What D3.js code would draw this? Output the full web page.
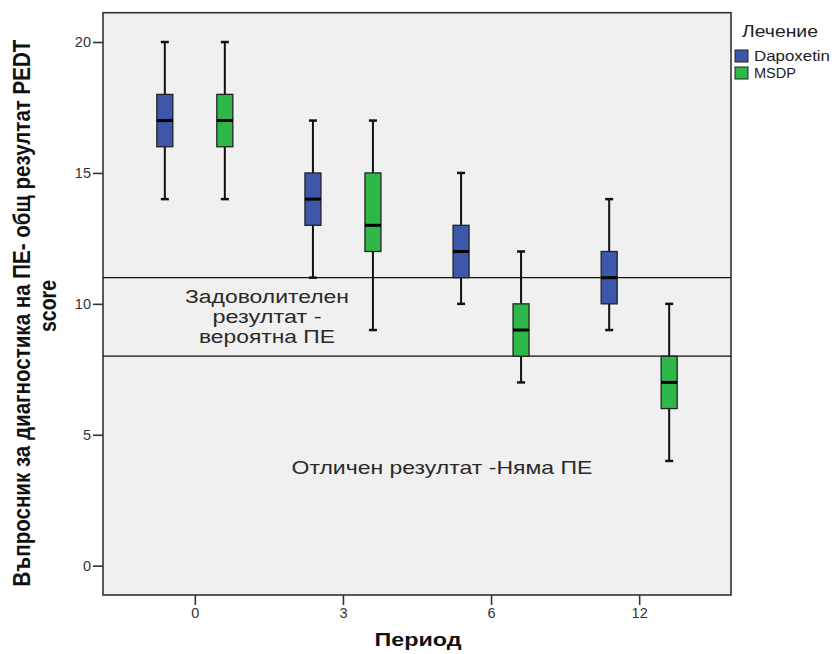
<!DOCTYPE html>
<html>
<head>
<meta charset="utf-8">
<script src="https://cdn.jsdelivr.net/npm/d3@7"></script>
<style>
  html, body { margin: 0; padding: 0; background: #ffffff; }
  svg { display: block; font-family: Arial, "Liberation Sans", sans-serif; }
</style>
</head>
<body>
<svg id="chart" width="832" height="654"></svg>
<script>
// Periods (months) and treatments
const periods = ["0", "3", "6", "12"];
const treatments = ["Dapoxetin", "MSDP"];
const yTicks = [0, 5, 10, 15, 20];

// PEDT score box statistics per period – Dapoxetin
const dapMin = [14, 11, 10, 9];
const dapQ1  = [16, 13, 11, 10];
const dapMed = [17, 14, 12, 11];
const dapQ3  = [18, 15, 13, 12];
const dapMax = [20, 17, 15, 14];

// PEDT score box statistics per period – MSDP
const msdpMin = [14, 9, 7, 4];
const msdpQ1  = [16, 12, 8, 6];
const msdpMed = [17, 13, 9, 7];
const msdpQ3  = [18, 15, 10, 8];
const msdpMax = [20, 17, 12, 10];

// Threshold lines between score zones
const thresholds = [11, 8];

const colors = { Dapoxetin: "#3d57a9", MSDP: "#2fb84a" };

const frame = { left: 103, right: 731, top: 12.7, bottom: 595 };
const svg = d3.select("#chart");

const x = d3.scalePoint().domain(periods)
  .range([frame.left, frame.right]).padding(0.62);
const xInner = d3.scaleBand().domain(treatments).range([-60, 60]);
const y = d3.scaleLinear().domain([-1.12, 21.12])
  .range([frame.bottom, frame.top]);

// Stretch a text element along its baseline so that it spans `len` pixels,
// keeping it centred on (cx, by) in its own coordinate frame.
function fitText(sel, cx, by, len) {
  sel.each(function () {
    const natural = this.getComputedTextLength();
    const s = len / natural;
    d3.select(this)
      .attr("x", 0).attr("y", 0)
      .attr("transform", `translate(${cx - len / 2},${by}) scale(${s},1)`);
  });
}

// plot background and frame
svg.append("rect")
  .attr("x", frame.left).attr("y", frame.top)
  .attr("width", frame.right - frame.left)
  .attr("height", frame.bottom - frame.top)
  .attr("fill", "#f0f0f0")
  .attr("stroke", "#333").attr("stroke-width", 1.6);

// axes
const yAxis = svg.append("g")
  .attr("transform", `translate(${frame.left},0)`)
  .call(d3.axisLeft(y).tickValues(yTicks).tickSize(10).tickPadding(2));
const xAxis = svg.append("g")
  .attr("transform", `translate(0,${frame.bottom})`)
  .call(d3.axisBottom(x).tickSize(10).tickPadding(3));
[yAxis, xAxis].forEach(g => {
  g.select(".domain").remove();
  g.selectAll(".tick line").attr("stroke", "#333").attr("stroke-width", 1.6);
  g.selectAll(".tick text").attr("fill", "#333")
    .style("font-size", "14.5px").style("font-family", "Arial, 'Liberation Sans', sans-serif");
});

// threshold lines
svg.append("g").selectAll("line").data(thresholds).join("line")
  .attr("x1", frame.left).attr("x2", frame.right)
  .attr("y1", d => y(d)).attr("y2", d => y(d))
  .attr("stroke", "#111").attr("stroke-width", 1.2);

// zone annotations
const notes = [
  { t: "Задоволителен", cx: 267, by: 303, w: 164 },
  { t: "резултат -", cx: 267, by: 323, w: 109 },
  { t: "вероятна ПЕ", cx: 267, by: 343, w: 136 },
  { t: "Отличен резултат -Няма ПЕ", cx: 442, by: 474, w: 301 }
];
svg.append("g").selectAll("text").data(notes).join("text")
  .attr("fill", "#2a2a2a").style("font-size", "18px")
  .text(d => d.t)
  .each(function (d) { fitText(d3.select(this), d.cx, d.by, d.w); });

// box plot rows
const rows = [];
periods.forEach((p, i) => {
  rows.push({ p, tr: "Dapoxetin", lo: dapMin[i], q1: dapQ1[i], med: dapMed[i], q3: dapQ3[i], hi: dapMax[i] });
  rows.push({ p, tr: "MSDP", lo: msdpMin[i], q1: msdpQ1[i], med: msdpMed[i], q3: msdpQ3[i], hi: msdpMax[i] });
});

const boxW = 16, capW = 8;
const boxes = svg.append("g").selectAll("g").data(rows).join("g")
  .attr("transform", d => `translate(${x(d.p) + xInner(d.tr) + xInner.bandwidth() / 2},0)`);

// whiskers
boxes.append("line").attr("x1", 0).attr("x2", 0)
  .attr("y1", d => y(d.hi)).attr("y2", d => y(d.q3))
  .attr("stroke", "#111").attr("stroke-width", 2);
boxes.append("line").attr("x1", 0).attr("x2", 0)
  .attr("y1", d => y(d.q1)).attr("y2", d => y(d.lo))
  .attr("stroke", "#111").attr("stroke-width", 2);
// caps
boxes.append("line").attr("x1", -capW / 2).attr("x2", capW / 2)
  .attr("y1", d => y(d.hi)).attr("y2", d => y(d.hi))
  .attr("stroke", "#111").attr("stroke-width", 2.5);
boxes.append("line").attr("x1", -capW / 2).attr("x2", capW / 2)
  .attr("y1", d => y(d.lo)).attr("y2", d => y(d.lo))
  .attr("stroke", "#111").attr("stroke-width", 2.5);
// boxes
boxes.append("rect")
  .attr("x", -boxW / 2).attr("width", boxW)
  .attr("y", d => y(d.q3)).attr("height", d => y(d.q1) - y(d.q3))
  .attr("fill", d => colors[d.tr])
  .attr("stroke", "#222").attr("stroke-width", 1.3);
// medians
boxes.append("line").attr("x1", -boxW / 2).attr("x2", boxW / 2)
  .attr("y1", d => y(d.med)).attr("y2", d => y(d.med))
  .attr("stroke", "#000").attr("stroke-width", 3);

// axis titles
svg.append("text")
  .style("font-size", "18px").style("font-weight", "bold").attr("fill", "#111")
  .text("Период")
  .call(fitText, 418, 646, 87);

const yTitle = svg.append("g").attr("transform", "translate(0,313) rotate(-90)");
yTitle.append("text")
  .style("font-size", "23px").style("font-weight", "bold").attr("fill", "#111")
  .text("Въпросник за диагностика на ПЕ- общ резултат PEDT")
  .call(fitText, 0, 30, 547);
yTitle.append("text")
  .style("font-size", "23px").style("font-weight", "bold").attr("fill", "#111")
  .text("score")
  .call(fitText, 7, 56, 52);

// legend
const legend = svg.append("g");
legend.append("text")
  .style("font-size", "16px").attr("fill", "#222").text("Лечение")
  .call(fitText, 780, 37, 76);
const items = legend.selectAll("g.item").data(treatments).join("g")
  .attr("class", "item")
  .attr("transform", (d, i) => `translate(735,${50 + i * 17})`);
items.append("rect").attr("width", 13).attr("height", 12)
  .attr("fill", d => colors[d]).attr("stroke", "#222").attr("stroke-width", 1);
items.append("text")
  .style("font-size", "14px").attr("fill", "#222").text(d => d)
  .each(function (d) {
    const w = d === "Dapoxetin" ? 76 : 42;
    fitText(d3.select(this), 19 + w / 2, 11, w);
  });
</script>
</body>
</html>
